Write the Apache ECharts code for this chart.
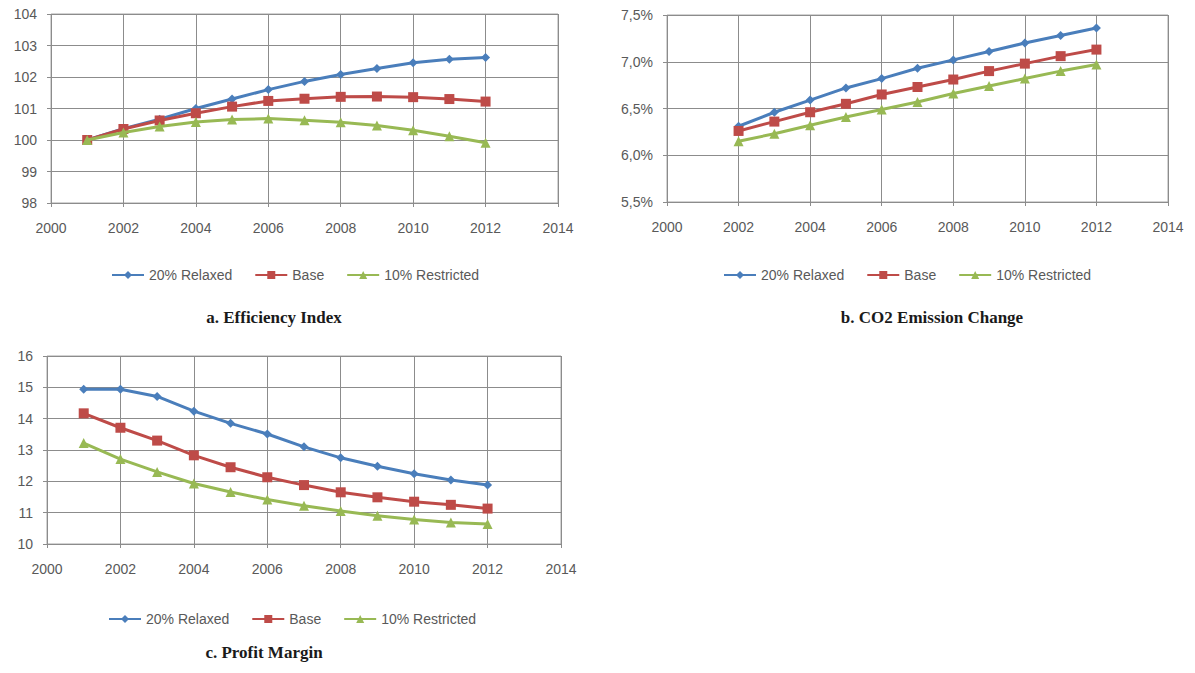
<!DOCTYPE html>
<html>
<head>
<meta charset="utf-8">
<script src="https://cdn.jsdelivr.net/npm/echarts@6/dist/echarts.min.js"></script>
<style>
  html, body { margin: 0; padding: 0; background: #ffffff; }
  #main { width: 1195px; height: 673px; }
</style>
</head>
<body>
<div id="main"></div>
<script>
// Scenario names
const SCENARIOS = ['20% Relaxed', 'Base', '10% Restricted'];

// a. Efficiency Index (2001-2012)
const YEARS_EFF = [2001, 2002, 2003, 2004, 2005, 2006, 2007, 2008, 2009, 2010, 2011, 2012];
const EFF_RELAXED = [100.00, 100.36, 100.66, 101.00, 101.30, 101.60, 101.86, 102.08, 102.27, 102.45, 102.56, 102.62];
const EFF_BASE = [100.00, 100.35, 100.62, 100.85, 101.06, 101.24, 101.31, 101.37, 101.38, 101.36, 101.30, 101.22];
const EFF_RESTRICTED = [100.00, 100.24, 100.43, 100.57, 100.65, 100.68, 100.63, 100.56, 100.46, 100.31, 100.12, 99.91];

// b. CO2 Emission Change, % (2002-2012)
const YEARS_CO2 = [2002, 2003, 2004, 2005, 2006, 2007, 2008, 2009, 2010, 2011, 2012];
const CO2_RELAXED = [6.31, 6.46, 6.59, 6.72, 6.82, 6.93, 7.02, 7.11, 7.20, 7.28, 7.36];
const CO2_BASE = [6.26, 6.36, 6.46, 6.55, 6.65, 6.73, 6.81, 6.90, 6.98, 7.06, 7.13];
const CO2_RESTRICTED = [6.15, 6.23, 6.32, 6.41, 6.49, 6.57, 6.66, 6.74, 6.82, 6.90, 6.97];

// c. Profit Margin (2001-2012)
const YEARS_PM = [2001, 2002, 2003, 2004, 2005, 2006, 2007, 2008, 2009, 2010, 2011, 2012];
const PM_RELAXED = [14.94, 14.94, 14.71, 14.24, 13.85, 13.51, 13.10, 12.75, 12.48, 12.24, 12.04, 11.88];
const PM_BASE = [14.17, 13.71, 13.30, 12.83, 12.45, 12.13, 11.88, 11.65, 11.49, 11.35, 11.25, 11.13];
const PM_RESTRICTED = [13.22, 12.71, 12.30, 11.93, 11.66, 11.42, 11.22, 11.05, 10.90, 10.78, 10.69, 10.64];

// Panel titles
const TITLES = ['a. Efficiency Index', 'b. CO2 Emission Change', 'c. Profit Margin'];

const COLORS = ['#4a7ebb', '#be4b48', '#98b954'];
const SYMBOLS = ['diamond', 'rect', 'triangle'];
const SYMBOL_SIZES = [9, 10, 10];
const FONT = '"Liberation Sans", Arial, sans-serif';
const LABEL_COLOR = '#595959';
const GRID_COLOR = '#8c8c8c';

const pairs = (xs, ys) => xs.map((x, i) => [x, ys[i]]);

const grids = [
  { left: 51, top: 14, width: 507, height: 189 },
  { left: 667, top: 15, width: 501, height: 187 },
  { left: 47, top: 356, width: 514, height: 188 }
];

function xAxisFor(gi) {
  return {
    type: 'value', gridIndex: gi, min: 2000, max: 2014, interval: 2,
    axisLine: { show: false },
    axisTick: { show: true, length: 4, lineStyle: { color: GRID_COLOR } },
    splitLine: { show: true, lineStyle: { color: GRID_COLOR, width: 1 } },
    axisLabel: { color: LABEL_COLOR, fontSize: 14, fontFamily: FONT, margin: 18, formatter: v => String(v) }
  };
}
function yAxisFor(gi, min, max, interval, fmt) {
  return {
    type: 'value', gridIndex: gi, min, max, interval,
    axisLine: { show: false },
    axisTick: { show: true, length: 4, lineStyle: { color: GRID_COLOR } },
    splitLine: { show: true, lineStyle: { color: GRID_COLOR, width: 1 } },
    axisLabel: { color: LABEL_COLOR, fontSize: 14, fontFamily: FONT, margin: 14, formatter: fmt || (v => String(v)) }
  };
}

function seriesFor(gi, xs, sets) {
  return sets.map((ys, k) => ({
    name: SCENARIOS[k],
    type: 'line',
    xAxisIndex: gi, yAxisIndex: gi,
    data: pairs(xs, ys),
    symbol: SYMBOLS[k],
    symbolSize: SYMBOL_SIZES[k],
    showAllSymbol: true,
    lineStyle: { color: COLORS[k], width: 3 },
    itemStyle: { color: COLORS[k] },
    z: 3 + k,
    animation: false
  }));
}

function legendAt(left, top) {
  return {
    left, top, orient: 'horizontal',
    data: SCENARIOS,
    itemWidth: 32, itemHeight: 10, itemGap: 22,
    textStyle: { color: LABEL_COLOR, fontSize: 14, fontFamily: FONT }
  };
}

function titleText(text, x, y) {
  return {
    type: 'text', x, y,
    style: {
      text, fill: '#1a1a1a',
      font: 'bold 17px "Liberation Serif", "Times New Roman", serif',
      textAlign: 'center', textVerticalAlign: 'middle'
    }
  };
}

const chart = echarts.init(document.getElementById('main'), null, { renderer: 'svg' });
chart.setOption({
  backgroundColor: '#ffffff',
  animation: false,
  grid: grids.map(g => Object.assign({ show: true, borderColor: '#a6a6a6', borderWidth: 1, backgroundColor: '#ffffff' }, g)),
  xAxis: [xAxisFor(0), xAxisFor(1), xAxisFor(2)],
  yAxis: [
    yAxisFor(0, 98, 104, 1),
    yAxisFor(1, 5.5, 7.5, 0.5, v => v.toFixed(1).replace('.', ',') + '%'),
    yAxisFor(2, 10, 16, 1)
  ],
  legend: [legendAt(106, 263), legendAt(718, 263), legendAt(103, 607)],
  series: [].concat(
    seriesFor(0, YEARS_EFF, [EFF_RELAXED, EFF_BASE, EFF_RESTRICTED]),
    seriesFor(1, YEARS_CO2, [CO2_RELAXED, CO2_BASE, CO2_RESTRICTED]),
    seriesFor(2, YEARS_PM, [PM_RELAXED, PM_BASE, PM_RESTRICTED])
  ),
  graphic: [
    titleText(TITLES[0], 274, 317),
    titleText(TITLES[1], 932, 317),
    titleText(TITLES[2], 264, 652)
  ]
});
</script>
</body>
</html>
